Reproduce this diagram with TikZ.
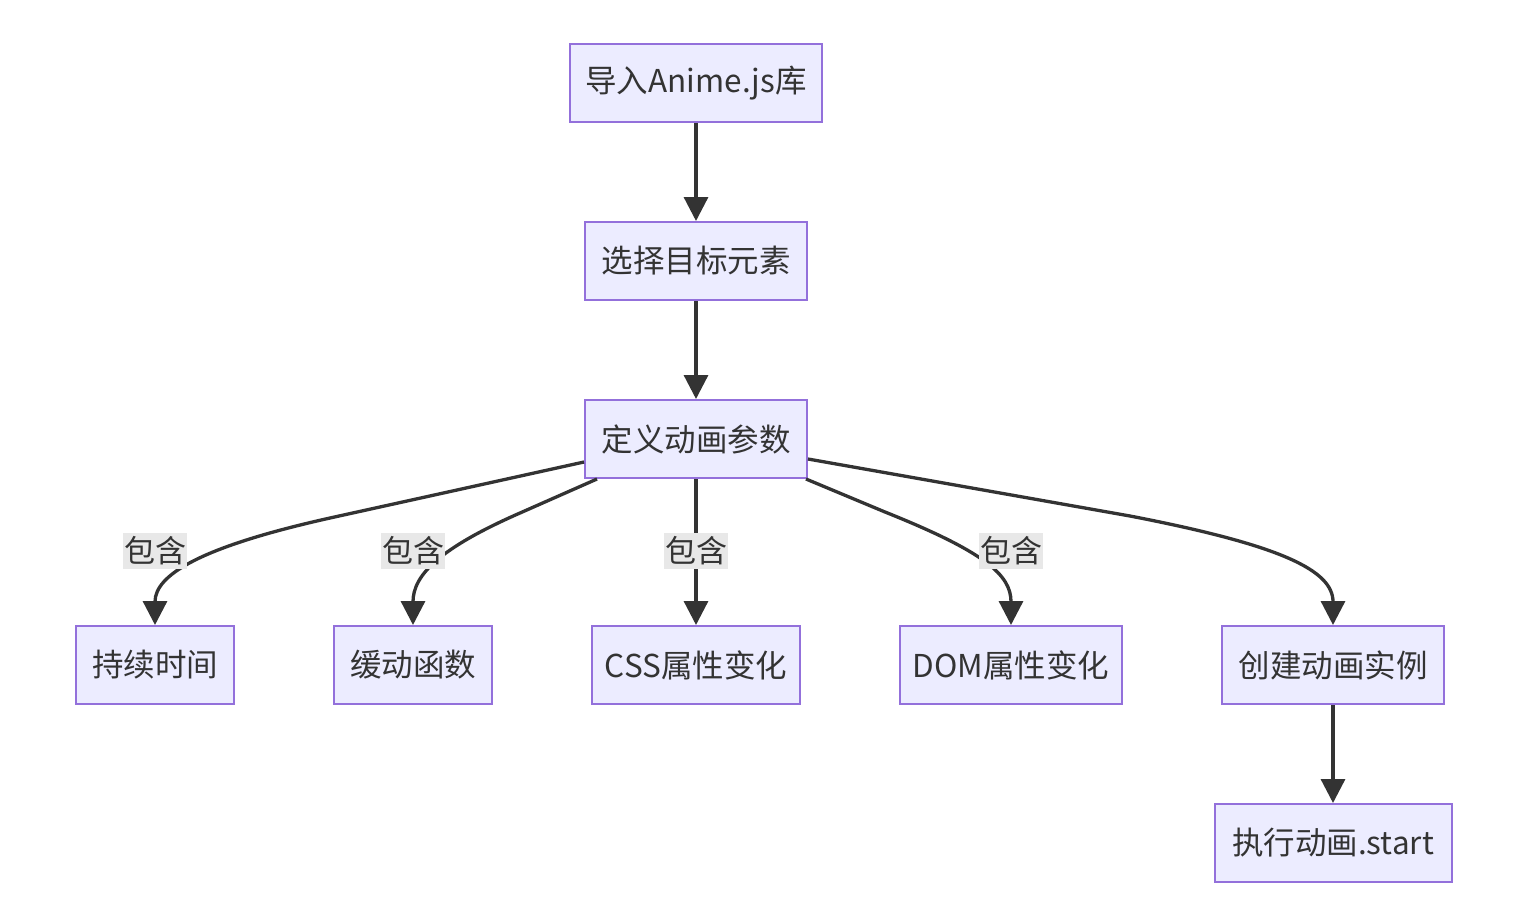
\documentclass[tikz,border=0pt]{standalone}
\usepackage{fontspec}
\setmainfont{Noto Sans CJK SC}
\usetikzlibrary{arrows.meta}
\definecolor{nodefill}{HTML}{ECECFF}
\definecolor{nodeline}{HTML}{9370DB}
\definecolor{edgecol}{HTML}{333333}
\definecolor{lblbg}{HTML}{E8E8E8}
\begin{document}
\begin{tikzpicture}[x=1pt,y=-1pt,
  box/.style={draw=nodeline, fill=nodefill, line width=2pt, text=edgecol,
    font=\fontsize{31.5}{36}\selectfont, inner sep=0pt, minimum height=78pt},
  lbl/.style={fill=lblbg, text=edgecol, font=\fontsize{31}{36}\selectfont,
    inner sep=0pt, minimum width=64pt, minimum height=36pt},
  edge/.style={draw=edgecol, line width=3.3pt,
    -{Triangle[length=24pt,width=24pt]}}]
\useasboundingbox (0,0) rectangle (1518,910);
\fill[white] (0,0) rectangle (1518,910);

\node[box, minimum width=252pt] (imp) at (696,83) {导入Anime.js库};
\node[box, minimum width=222pt] (sel) at (696,261) {选择目标元素};
\node[box, minimum width=222pt] (def) at (696,439) {定义动画参数};
\node[box, minimum width=158pt] (dur) at (155,665) {持续时间};
\node[box, minimum width=158pt] (eas) at (413,665) {缓动函数};
\node[box, minimum width=208pt] (css) at (696,665) {CSS属性变化};
\node[box, minimum width=222pt] (dom) at (1011,665) {DOM属性变化};
\node[box, minimum width=222pt] (cre) at (1333,665) {创建动画实例};
\node[box, minimum width=237pt] (exe) at (1333,843) {执行动画.start};

\draw[edge] (imp.south) -- (sel.north);
\draw[edge] (sel.south) -- (def.north);
\draw[edge] ([yshift=-23pt]def.west) -- (330,518) .. controls (200,547) and (155,575) .. (dur.north);
\draw[edge] ([xshift=13pt]def.south west) -- (520,513) .. controls (440,548) and (413,575) .. (eas.north);
\draw[edge] (def.south) -- (css.north);
\draw[edge] ([xshift=-2pt]def.south east) -- (885,512) .. controls (985,552) and (1011,575) .. (dom.north);
\draw[edge] ([yshift=-20pt]def.east) -- (1130,516) .. controls (1280,545) and (1333,570) .. (cre.north);
\draw[edge] (cre.south) -- (exe.north);

\node[lbl] (l1) at (155,551) {包含};
\node[lbl] (l2) at (413,551) {包含};
\node[lbl] (l3) at (696,551) {包含};
\node[lbl] (l4) at (1011,551) {包含};
\end{tikzpicture}
\end{document}
